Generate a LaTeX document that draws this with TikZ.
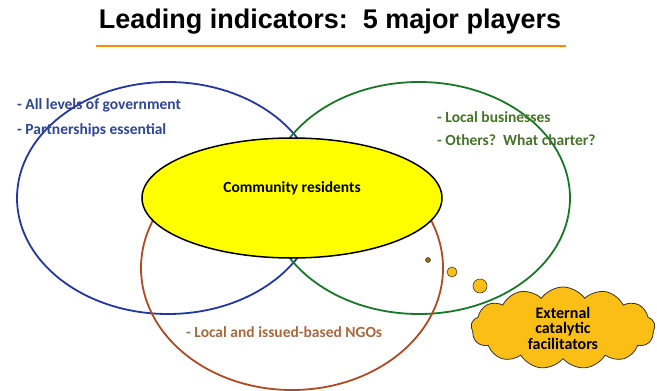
\documentclass[tikz,border=0pt]{standalone}
\usepackage{fontspec}
\setmainfont{Carlito}
\newfontfamily\titlefont{Liberation Sans}
\usetikzlibrary{shapes.geometric}
\usetikzlibrary{shapes.symbols}
\definecolor{govblue}{RGB}{35,55,160}
\definecolor{govtext}{RGB}{45,70,150}
\definecolor{bizgreen}{RGB}{25,120,40}
\definecolor{biztext}{RGB}{70,115,40}
\definecolor{ngobrown}{RGB}{175,75,35}
\definecolor{ngotext}{RGB}{170,105,60}
\definecolor{resyellow}{RGB}{255,255,0}
\definecolor{cloudgold}{RGB}{250,190,20}
\definecolor{ruleorange}{RGB}{255,140,0}

\begin{document}
\begin{tikzpicture}[x=1pt,y=-1pt,
  venn/.style={ellipse,draw,line width=1.8pt,minimum width=302pt,minimum height=232pt,inner sep=0pt},
  item/.style={anchor=west,inner sep=0pt,font=\fontsize{15.5}{17}\selectfont\bfseries},
  bubble/.style={circle,draw=black!75,line width=0.6pt,fill=cloudgold,inner sep=0pt}]
\useasboundingbox (0,0) rectangle (657,391);

\node[anchor=center,font=\titlefont\fontsize{27}{30}\selectfont\bfseries] (title) at (330,22) {Leading indicators:\ \ 5 major players};
\coordinate (rule-w) at (96,46);
\coordinate (rule-e) at (566,46);
\draw[ruleorange,line width=2pt] (rule-w) -- (rule-e);

\node[venn,draw=govblue] (gov) at (168,198) {};
\node[venn,draw=bizgreen] (biz) at (419,198) {};
\node[venn,draw=ngobrown,minimum height=244pt] (ngo) at (292,268) {};

\node[ellipse,draw,fill=resyellow,line width=1.5pt,minimum width=300pt,minimum height=120pt,
  text height=10pt,text depth=21pt,font=\fontsize{15.5}{17}\selectfont\bfseries] (res) at (292,198) {Community residents};

\node[item,text=govtext] (gov1) at (17,105) {- All levels of government};
\node[item,text=govtext] (gov2) at (17,130) {- Partnerships essential};

\node[item,text=biztext] (biz1) at (437,117) {- Local businesses};
\node[item,text=biztext] (biz2) at (437,140) {- Others?\ \ What charter?};

\node[item,text=ngotext] (ngo1) at (186,332) {- Local and issued-based NGOs};

\node[bubble,minimum size=5pt,fill=cloudgold!60!black] (b1) at (428,260) {};
\node[bubble,minimum size=10pt] (b2) at (452,272) {};
\node[bubble,minimum size=14pt] (b3) at (480,286) {};

\node[cloud,cloud puffs=13,cloud puff arc=110,aspect=2.2,draw=black!80,line width=0.8pt,fill=cloudgold,
  minimum width=184pt,minimum height=82pt,inner sep=0pt,align=center,
  font=\fontsize{16}{15.5}\selectfont\bfseries] (ext) at (563,328) {External\\catalytic\\facilitators};

\end{tikzpicture}
\end{document}
